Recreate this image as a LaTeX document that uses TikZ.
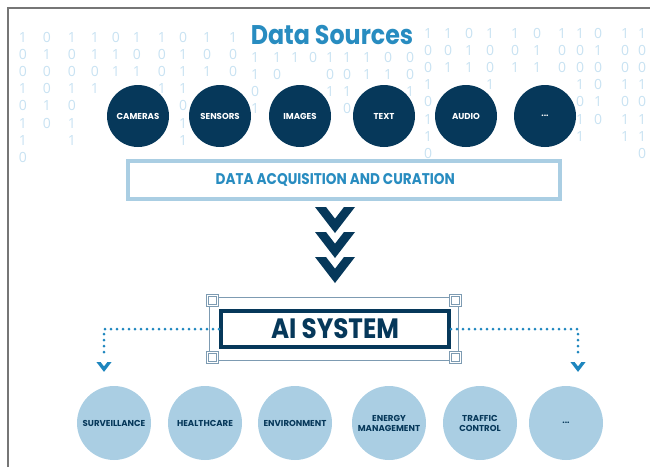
\documentclass[tikz,border=0pt]{standalone}
\usepackage{fontspec}
\setmainfont{Open Sans}
\newfontfamily\headfont[FakeStretch=0.88]{Poppins}
\newfontfamily\labelfont{Poppins}
\definecolor{navy}{RGB}{6,56,90}
\definecolor{midblue}{RGB}{40,140,192}
\definecolor{paleblue}{RGB}{170,206,227}
\definecolor{bitblue}{RGB}{200,226,242}
\definecolor{dotblue}{RGB}{30,134,190}
\definecolor{framegray}{RGB}{118,118,118}
\definecolor{knotblue}{RGB}{125,155,178}

\begin{document}
\begin{tikzpicture}[x=1pt,y=-1pt,
  bit/.style={text=bitblue,font=\fontsize{14}{14}\selectfont,inner sep=0pt},
  source/.style={circle,fill=navy,minimum size=62pt,inner sep=0pt,text=white,font=\labelfont\bfseries\fontsize{8.6}{10}\selectfont},
  usecase/.style={circle,fill=paleblue,minimum size=74pt,inner sep=0pt,text=navy,align=center,font=\labelfont\bfseries\fontsize{8.6}{10}\selectfont},
  acqbox/.style={draw=paleblue,line width=4pt,minimum width=431.5pt,minimum height=38pt,text=midblue,font=\headfont\bfseries\fontsize{15.5}{15.5}\selectfont},
  aibox/.style={draw=navy,line width=4pt,fill=white,minimum width=228pt,minimum height=36pt,text=navy,font=\headfont\bfseries\fontsize{28}{28}\selectfont},
  aiframe/.style={draw=knotblue,line width=0.7pt,double=white,double distance=2.5pt,minimum width=252.8pt,minimum height=66.8pt},
  knot/.style={draw=knotblue,line width=0.6pt,double=white,double distance=1.4pt,fill=white,minimum size=10pt,inner sep=0pt},
  dots/.style={dotblue,line width=3pt,line cap=round,dash pattern=on 0pt off 6pt},
  chevron/.pic={\fill (-20,0) -- (-9,0) -- (0,11.7) -- (9,0) -- (20,0) -- (0,26) -- cycle;}
]
\useasboundingbox (0,0) rectangle (650,467);

\draw[framegray,line width=1.2pt] (8,467) -- (8,8) -- (650,8);

\foreach \x/\y/\bits in {23/37/{1,0,0,1,0,1,1,0}, 47/37/{0,1,0,0,1,0}, 72/37/{1,0,0,1,0,1,1},
  95/37/{1,1,0,1}, 116/37/{0,1,1}, 137/37/{1,0,1}, 162/37/{1,0,0,1}, 183/37/{0,1,1,1,0,1,1},
  207/37/{1,0,1}, 233/37/{1,0,0}, 255/57/{1,1,0,1}, 277/57/{1,0}, 295/57/{1}, 313/57/{0},
  330/57/{1,0,1}, 347/57/{1,0,1,0}, 367/57/{1,1}, 388/57/{0,1}, 410/57/{0,0,1},
  428/33/{1,0,0,1,0,1,1,0}, 448/33/{1,0,1}, 469/33/{0,1,1}, 490/33/{1,0,0,1}, 515/33/{1,0,1},
  537/33/{0,1,1}, 562/33/{1,0,0}, 580/33/{1,0,0,1,0,1,1}, 598/33/{0,1,0,0,1,0},
  625/33/{1,0,0,1,0,1,1}, 642/33/{1,0,0,1,0,1,1,0}}
  \foreach \b [count=\r] in \bits
    \node[bit] (bit-\x-\r) at (\x,\y+17.2*\r-17.2) {\b};

\node[font=\headfont\bfseries\fontsize{27}{27}\selectfont,text=midblue,anchor=base,inner sep=0pt] (title) at (332,44) {Data Sources};

\node[source] (cameras) at (138,116) {CAMERAS};
\node[source] (sensors) at (220,116) {SENSORS};
\node[source] (images) at (300,116) {IMAGES};
\node[source] (text) at (384,116) {TEXT};
\node[source] (audio) at (466,116) {AUDIO};
\node[source] (moresrc) at (545,116) {...};

\node[acqbox] (acq) at (343.75,180) {\hspace*{-17pt}DATA ACQUISITION AND CURATION};

\foreach \t in {207,232,257}
  \pic[navy] at (335,\t) {chevron};

\node[aiframe] (frame) at (334,329) {};
\foreach \c in {north west,north east,south west,south east}
  \node[knot,anchor=\c] at (frame.\c) {};
\node[aibox] (ai) at (335,329) {AI SYSTEM};

\coordinate (lefttip) at (104,356);
\coordinate (righttip) at (578,356);
\draw[dots] (ai.west) -| (lefttip);
\draw[dots] (ai.east) -| (righttip);
\pic[dotblue,scale=0.38] at (104,362) {chevron};
\pic[dotblue,scale=0.38] at (578,362) {chevron};

\node[usecase] (surveillance) at (114,423) {SURVEILLANCE};
\node[usecase] (healthcare) at (205,423) {HEALTHCARE};
\node[usecase] (environment) at (295,423) {ENVIRONMENT};
\node[usecase] (energy) at (389,423) {ENERGY\\MANAGEMENT};
\node[usecase] (traffic) at (480,423) {TRAFFIC\\CONTROL};
\node[usecase] (moreuse) at (566,423) {...};

\end{tikzpicture}
\end{document}
